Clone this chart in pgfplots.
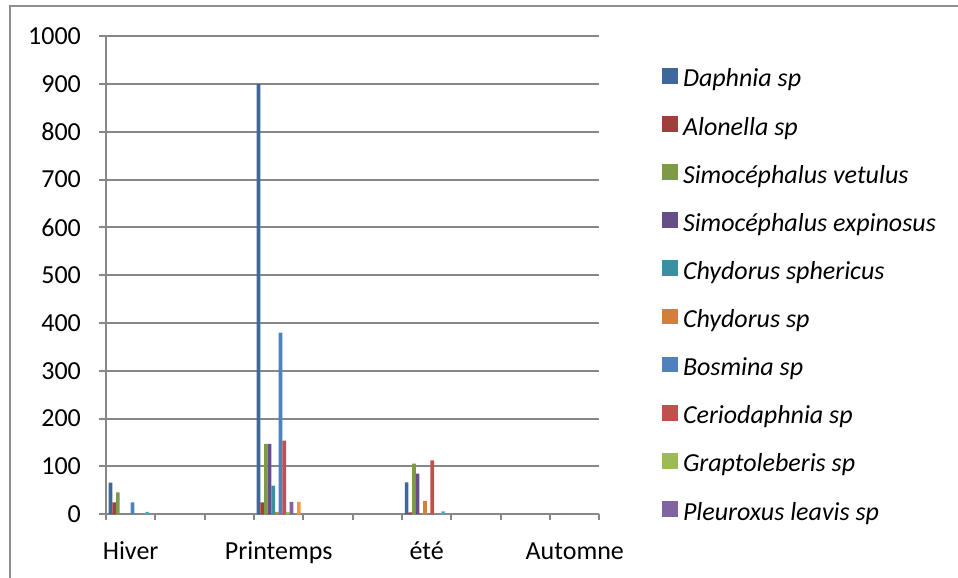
\documentclass[border=0pt]{standalone}
\usepackage{pgfplots}
\pgfplotsset{compat=1.18}
\usepackage{fontspec}
\setmainfont{Carlito}
\definecolor{c1}{HTML}{3F689A}
\definecolor{c2}{HTML}{A0403D}
\definecolor{c3}{HTML}{7E9A48}
\definecolor{c4}{HTML}{664F88}
\definecolor{c5}{HTML}{3A8FA3}
\definecolor{c6}{HTML}{D27F39}
\definecolor{c7}{HTML}{4F81BD}
\definecolor{c8}{HTML}{C0504D}
\definecolor{c9}{HTML}{9BBB59}
\definecolor{c10}{HTML}{8064A2}
\definecolor{c11}{HTML}{4BACC6}
\definecolor{c12}{HTML}{F79646}
\definecolor{gridc}{HTML}{878787}
\definecolor{framec}{HTML}{8E8E8E}
\pgfplotsset{sqleg/.style={legend image code/.code={\fill[##1] (0pt,-2.5pt) rectangle (11.8pt,9.3pt);}}}
\begin{document}
\begin{tikzpicture}
\begin{axis}[
  at={(0pt,0pt)}, anchor=south west,
  scale only axis, width=370.1pt, height=358.7pt,
  ybar=0pt, bar width=2.75pt,
  xmin=-0.5, xmax=9.5, ymin=0, ymax=1000,
  enlargelimits=false,
  axis x line*=bottom, axis y line*=left,
  axis line style={gridc, line width=1.5pt, -},
  xtick={0,3,6,9}, xticklabels={Hiver,Printemps,été,Automne},
  minor xtick={-0.5,0.5,...,9.5},
  major x tick style={draw=none},
  minor x tick style={gridc, line width=1.5pt},
  y tick style={gridc, line width=1.5pt},
  minor tick length=4.5pt, major tick length=5.25pt,
  tick align=outside,
  ytick={0,100,...,1000},
  ymajorgrids, grid style={gridc, line width=1.5pt},
  /pgf/number format/assume math mode=true,
  /pgf/number format/set thousands separator={},
  ticklabel style={font=\fontsize{19.5pt}{23pt}\selectfont},
  xticklabel style={anchor=base, yshift=-28.7pt},
  yticklabel style={anchor=east, inner sep=0pt, xshift=-13.4pt},
  legend style={draw=none, fill=none, at={(1.1266,0.9335)}, anchor=north west,
    inner sep=0pt, outer sep=0pt, row sep=17.8pt,
    nodes={inner sep=0pt, text height=14pt, text depth=4pt, font=\itshape\fontsize{19.5pt}{23pt}\selectfont},
    /tikz/every odd column/.append style={column sep=4pt}},
  legend cell align=left,
]
\addplot[fill=c1, draw=none, sqleg] coordinates {(0,66) (3,900) (6,67) (9,0)};
\addplot[fill=c2, draw=none, sqleg] coordinates {(0,25) (3,25) (6,4) (9,0)};
\addplot[fill=c3, draw=none, sqleg] coordinates {(0,46) (3,147) (6,106) (9,0)};
\addplot[fill=c4, draw=none, sqleg] coordinates {(0,0) (3,147) (6,85) (9,0)};
\addplot[fill=c5, draw=none, sqleg] coordinates {(0,0) (3,60) (6,0) (9,0)};
\addplot[fill=c6, draw=none, sqleg] coordinates {(0,0) (3,5) (6,28) (9,0)};
\addplot[fill=c7, draw=none, sqleg] coordinates {(0,25) (3,380) (6,0) (9,0)};
\addplot[fill=c8, draw=none, sqleg] coordinates {(0,0) (3,154) (6,113) (9,0)};
\addplot[fill=c9, draw=none, sqleg] coordinates {(0,0) (3,5) (6,0) (9,0)};
\addplot[fill=c10, draw=none, sqleg] coordinates {(0,0) (3,26) (6,0) (9,0)};
\addplot[fill=c11, draw=none, sqleg] coordinates {(0,5) (3,0) (6,6) (9,0)};
\addplot[fill=c12, draw=none, sqleg] coordinates {(0,0) (3,26) (6,0) (9,0)};
\legend{Daphnia sp, Alonella sp, Simocéphalus vetulus, Simocéphalus expinosus, Chydorus sphericus, Chydorus sp, Bosmina sp, Ceriodaphnia sp, Graptoleberis sp, Pleuroxus leavis sp}
\end{axis}
\pgfresetboundingbox
\useasboundingbox (-79.5pt,-47.775pt) rectangle (639pt,385.725pt);
\draw[color=framec, line width=1.5pt] (-72pt,-47.775pt) -- (-72pt,381.2pt) -- (639pt,381.2pt);
\end{tikzpicture}
\end{document}
